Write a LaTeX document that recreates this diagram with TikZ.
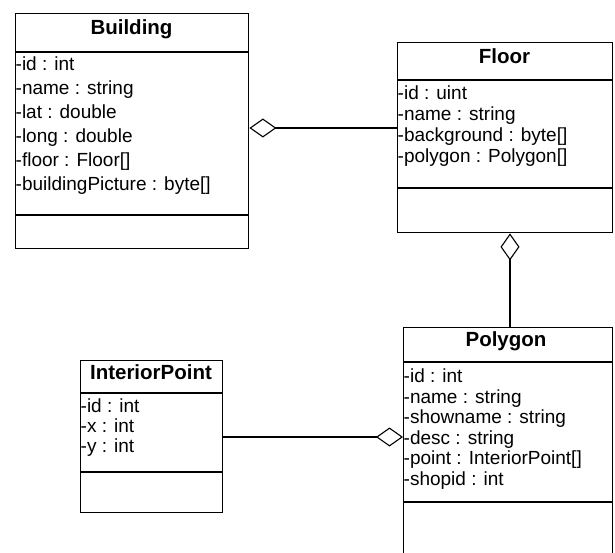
\documentclass[tikz,border=0pt]{standalone}
\usepackage{fontspec}
\setmainfont{Liberation Sans}
\usetikzlibrary{arrows.meta}
\tikzset{aggtip/.tip={Diamond[open, length=27pt, width=19pt, line width=1.1pt]}}
\begin{document}
\begin{tikzpicture}[x=1pt,y=-1pt,
  classbox/.style={draw, line width=1.4pt, inner sep=0pt, anchor=north west},
  title/.style={font=\fontsize{20.5}{21}\selectfont\bfseries, inner sep=0pt, text height=0.75em, text depth=0.22em},
  attr/.style={font=\fontsize{19}{19}\selectfont, inner sep=0pt, anchor=west, text height=0.75em, text depth=0.22em},
  sepline/.style={line width=1.4pt},
  agg/.style={line width=1.2pt}
]
\useasboundingbox (0,0) rectangle (615,553);

% Building
\node[classbox, minimum width=233pt, minimum height=235pt] (building) at (15,13) {};
\node[title] (bt) at (131.5,32) {Building};
\coordinate (by1) at (0,52);
\coordinate (by2) at (0,215);
\draw[sepline] (building.west |- by1) -- (building.east |- by1);
\draw[sepline] (building.west |- by2) -- (building.east |- by2);
\node[attr] (b1) at (15.5,68) {-id : int};
\node[attr] (b2) at (15.5,92) {-name : string};
\node[attr] (b3) at (15.5,116) {-lat : double};
\node[attr] (b4) at (15.5,140) {-long : double};
\node[attr] (b5) at (15.5,164) {-floor : Floor[]};
\node[attr] (b6) at (15.5,188) {-buildingPicture : byte[]};

% Floor
\node[classbox, minimum width=215pt, minimum height=190pt] (floor) at (397,42) {};
\node[title] (ft) at (504.5,61) {Floor};
\coordinate (fy1) at (0,80);
\coordinate (fy2) at (0,188);
\draw[sepline] (floor.west |- fy1) -- (floor.east |- fy1);
\draw[sepline] (floor.west |- fy2) -- (floor.east |- fy2);
\node[attr] (f1) at (397.5,97) {-id : uint};
\node[attr] (f2) at (397.5,118) {-name : string};
\node[attr] (f3) at (397.5,139) {-background : byte[]};
\node[attr] (f4) at (397.5,160) {-polygon : Polygon[]};

% Polygon
\node[classbox, minimum width=209pt, minimum height=240pt] (polygon) at (403,327) {};
\node[title] (pt) at (506,344) {Polygon};
\coordinate (py1) at (0,362);
\coordinate (py2) at (0,502);
\draw[sepline] (polygon.west |- py1) -- (polygon.east |- py1);
\draw[sepline] (polygon.west |- py2) -- (polygon.east |- py2);
\node[attr] (p1) at (403.5,380) {-id : int};
\node[attr] (p2) at (403.5,400.5) {-name : string};
\node[attr] (p3) at (403.5,421) {-showname : string};
\node[attr] (p4) at (403.5,441.5) {-desc : string};
\node[attr] (p5) at (403.5,462) {-point : InteriorPoint[]};
\node[attr] (p6) at (403.5,482.5) {-shopid : int};

% InteriorPoint
\node[classbox, minimum width=142pt, minimum height=152pt] (ip) at (80,360) {};
\node[title] (it) at (151,377) {InteriorPoint};
\coordinate (iy1) at (0,393);
\coordinate (iy2) at (0,472);
\draw[sepline] (ip.west |- iy1) -- (ip.east |- iy1);
\draw[sepline] (ip.west |- iy2) -- (ip.east |- iy2);
\node[attr] (i1) at (80.5,410) {-id : int};
\node[attr] (i2) at (80.5,430) {-x : int};
\node[attr] (i3) at (80.5,450) {-y : int};

% connectors (aggregation)
\coordinate (bfy) at (0,128);
\coordinate (fpx) at (510,0);
\coordinate (ipy) at (0,437);
\draw[agg, {aggtip}-] (building.east |- bfy) -- (floor.west |- bfy);
\draw[agg, {aggtip}-] (floor.south -| fpx) -- (polygon.north -| fpx);
\draw[agg, -{aggtip}] (ip.east |- ipy) -- (polygon.west |- ipy);
\end{tikzpicture}
\end{document}
